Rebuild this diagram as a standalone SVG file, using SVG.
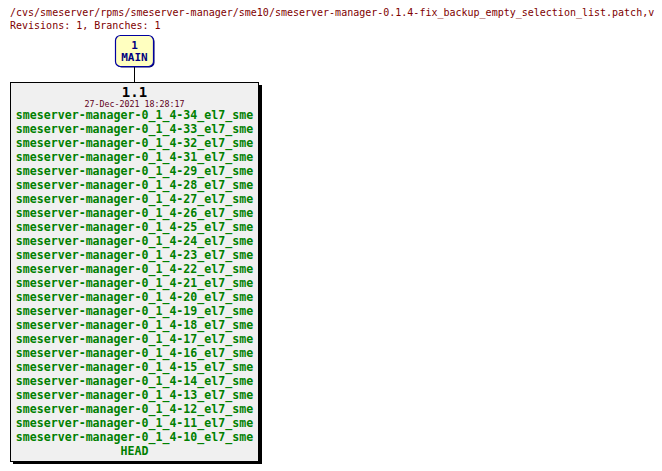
<svg xmlns="http://www.w3.org/2000/svg" width="662" height="471" viewBox="0 0 662 471">
<style>
.hdr{font-family:"DejaVu Sans Mono","Liberation Mono",monospace;font-size:10px;fill:#800000}
.br{font-family:"DejaVu Sans Mono","Liberation Mono",monospace;font-size:11px;font-weight:bold;fill:#000080;text-anchor:middle}
.rev{font-family:"DejaVu Sans Mono","Liberation Mono",monospace;font-size:14px;font-weight:bold;fill:#000000;text-anchor:middle}
.date{font-family:"DejaVu Sans Mono","Liberation Mono",monospace;font-size:8.3px;fill:#600020;text-anchor:middle}
.tag{font-family:"DejaVu Sans Mono","Liberation Mono",monospace;font-size:11.6px;font-weight:bold;fill:#008000;text-anchor:middle}
</style>
<rect width="662" height="471" fill="#ffffff"/>
<text class="hdr" x="10" y="16">/cvs/smeserver/rpms/smeserver-manager/sme10/smeserver-manager-0.1.4-fix_backup_empty_selection_list.patch,v</text>
<text class="hdr" x="10" y="29">Revisions: 1, Branches: 1</text>
<g id="connectors">
<line x1="134.5" y1="66" x2="134.5" y2="82" stroke="#000000" stroke-width="1"/>
</g>
<g id="MAIN">
<rect x="116.5" y="36.5" width="38" height="31" rx="5" fill="#000060"/>
<rect x="115.5" y="35.5" width="38" height="31" rx="5" fill="#ffffc0" stroke="#0000a0" stroke-width="1.2"/>
<text class="br" x="134.5" y="48.5">1</text>
<text class="br" x="134.5" y="61">MAIN</text>
</g>
<g id="rev-1.1">
<rect x="13" y="85" width="249" height="379" fill="#000000"/>
<rect x="10.5" y="82.5" width="248" height="379" fill="#f0f0f0" stroke="#000000" stroke-width="1"/>
<text class="rev" x="134.5" y="97">1.1</text>
<text class="date" x="134.5" y="107">27-Dec-2021 18:28:17</text>
<text class="tag" x="134.5" y="119">smeserver-manager-0_1_4-34_el7_sme</text>
<text class="tag" x="134.5" y="133">smeserver-manager-0_1_4-33_el7_sme</text>
<text class="tag" x="134.5" y="147">smeserver-manager-0_1_4-32_el7_sme</text>
<text class="tag" x="134.5" y="161">smeserver-manager-0_1_4-31_el7_sme</text>
<text class="tag" x="134.5" y="175">smeserver-manager-0_1_4-29_el7_sme</text>
<text class="tag" x="134.5" y="189">smeserver-manager-0_1_4-28_el7_sme</text>
<text class="tag" x="134.5" y="203">smeserver-manager-0_1_4-27_el7_sme</text>
<text class="tag" x="134.5" y="217">smeserver-manager-0_1_4-26_el7_sme</text>
<text class="tag" x="134.5" y="231">smeserver-manager-0_1_4-25_el7_sme</text>
<text class="tag" x="134.5" y="245">smeserver-manager-0_1_4-24_el7_sme</text>
<text class="tag" x="134.5" y="259">smeserver-manager-0_1_4-23_el7_sme</text>
<text class="tag" x="134.5" y="273">smeserver-manager-0_1_4-22_el7_sme</text>
<text class="tag" x="134.5" y="287">smeserver-manager-0_1_4-21_el7_sme</text>
<text class="tag" x="134.5" y="301">smeserver-manager-0_1_4-20_el7_sme</text>
<text class="tag" x="134.5" y="315">smeserver-manager-0_1_4-19_el7_sme</text>
<text class="tag" x="134.5" y="329">smeserver-manager-0_1_4-18_el7_sme</text>
<text class="tag" x="134.5" y="343">smeserver-manager-0_1_4-17_el7_sme</text>
<text class="tag" x="134.5" y="357">smeserver-manager-0_1_4-16_el7_sme</text>
<text class="tag" x="134.5" y="371">smeserver-manager-0_1_4-15_el7_sme</text>
<text class="tag" x="134.5" y="385">smeserver-manager-0_1_4-14_el7_sme</text>
<text class="tag" x="134.5" y="399">smeserver-manager-0_1_4-13_el7_sme</text>
<text class="tag" x="134.5" y="413">smeserver-manager-0_1_4-12_el7_sme</text>
<text class="tag" x="134.5" y="427">smeserver-manager-0_1_4-11_el7_sme</text>
<text class="tag" x="134.5" y="441">smeserver-manager-0_1_4-10_el7_sme</text>
<text class="tag" x="134.5" y="454.5">HEAD</text>
</g>
</svg>
